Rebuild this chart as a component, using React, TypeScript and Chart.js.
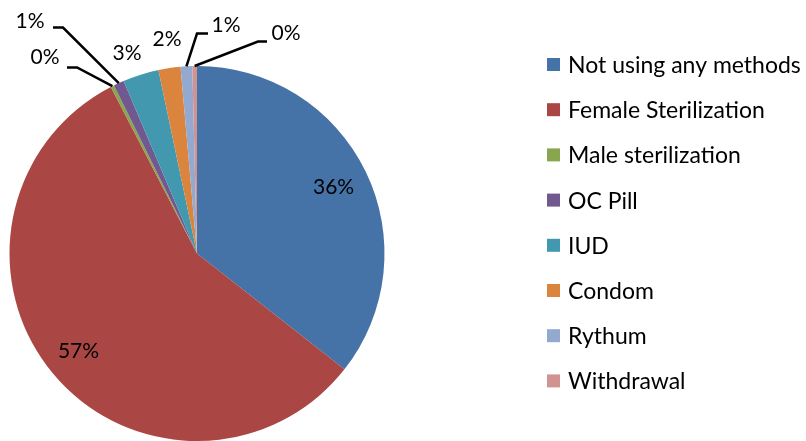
import React, { useEffect, useRef } from 'react';
import { Chart, registerables } from 'chart.js';

Chart.register(...registerables);

const categories = [
  'Not using any methods',
  'Female Sterilization',
  'Male sterilization',
  'OC Pill',
  'IUD',
  'Condom',
  'Rythum',
  'Withdrawal',
];
const shares = [35.6, 56.8, 0.3, 0.9, 3.1, 1.9, 1.0, 0.4];
const percentLabels = ['36%', '57%', '0%', '1%', '3%', '2%', '1%', '0%'];
const colors = ['#4572A7', '#AA4643', '#89A54E', '#71588F', '#4198AF', '#DB843D', '#93A9CF', '#D19392'];

const FONT = 'Lato, "Open Sans", sans-serif';
const LABEL_SIZE = 21;
const LEGEND_SIZE = 23;

// label placement (offsets in px from the pie centre)
const labelPlacement: any[] = [
  { kind: 'inside', f: 0.81 },
  { kind: 'inside', f: 0.82 },
  { kind: 'leader', text: [-152, -196], a: [-130, -186], b: [-120, -186] },
  { kind: 'leader', text: [-167, -232], a: [-144, -226], b: [-134, -226] },
  { kind: 'free', text: [-70, -200] },
  { kind: 'free', text: [-30, -214] },
  { kind: 'leader', text: [29, -228], a: [11, -220], b: [0, -220] },
  { kind: 'leader', text: [89, -220], a: [70, -212], b: [61, -212] },
];

const legendLayout = { boxX: 547, box: 13, textX: 568, firstY: 64.5, step: 45.2 };

const labelsPlugin = {
  id: 'pieLabels',
  afterDraw(chart: any) {
    const ctx = chart.ctx;
    const meta = chart.getDatasetMeta(0);
    ctx.save();
    ctx.font = `${LABEL_SIZE}px ${FONT}`;
    ctx.fillStyle = '#000';
    ctx.strokeStyle = '#000';
    ctx.lineWidth = 2.5;
    ctx.textAlign = 'center';
    ctx.textBaseline = 'middle';
    meta.data.forEach((arc: any, i: number) => {
      const p = arc.getProps(['x', 'y', 'startAngle', 'endAngle', 'outerRadius'], true);
      const mid = (p.startAngle + p.endAngle) / 2;
      const pl = labelPlacement[i];
      const txt = percentLabels[i];
      if (pl.kind === 'inside') {
        const r = p.outerRadius * pl.f;
        ctx.fillText(txt, p.x + Math.cos(mid) * r, p.y + Math.sin(mid) * r);
      } else {
        ctx.fillText(txt, p.x + pl.text[0], p.y + pl.text[1]);
        if (pl.kind === 'leader') {
          const ex = p.x + Math.cos(mid) * p.outerRadius;
          const ey = p.y + Math.sin(mid) * p.outerRadius;
          ctx.beginPath();
          ctx.moveTo(p.x + pl.a[0], p.y + pl.a[1]);
          ctx.lineTo(p.x + pl.b[0], p.y + pl.b[1]);
          ctx.lineTo(ex, ey);
          ctx.stroke();
        }
      }
    });
    // legend
    ctx.font = `${LEGEND_SIZE}px ${FONT}`;
    ctx.textAlign = 'left';
    ctx.textBaseline = 'middle';
    const L = legendLayout;
    chart.data.labels.forEach((lab: string, i: number) => {
      const cy = L.firstY + L.step * i;
      ctx.fillStyle = colors[i];
      ctx.fillRect(L.boxX, cy - L.box / 2, L.box, L.box);
      ctx.fillStyle = '#000';
      ctx.fillText(lab, L.textX, cy + 1);
    });
    ctx.restore();
  },
};

export default function App() {
  const ref = useRef<HTMLCanvasElement | null>(null);
  useEffect(() => {
    document.body.style.margin = '0';
    const chart = new Chart(ref.current as HTMLCanvasElement, {
      type: 'pie',
      data: {
        labels: categories,
        datasets: [
          {
            data: shares,
            backgroundColor: colors,
            borderWidth: 0,
          },
        ],
      },
      options: {
        animation: false,
        responsive: false,
        layout: { padding: { left: 9, right: 421, top: 66, bottom: 0 } },
        plugins: {
          legend: { display: false },
          tooltip: { enabled: false },
        },
      },
      plugins: [labelsPlugin],
    });
    return () => chart.destroy();
  }, []);
  return (
    <div style={{ width: 806, height: 441, background: '#fff' }}>
      <canvas ref={ref} width={806} height={441} style={{ display: 'block' }} />
    </div>
  );
}
